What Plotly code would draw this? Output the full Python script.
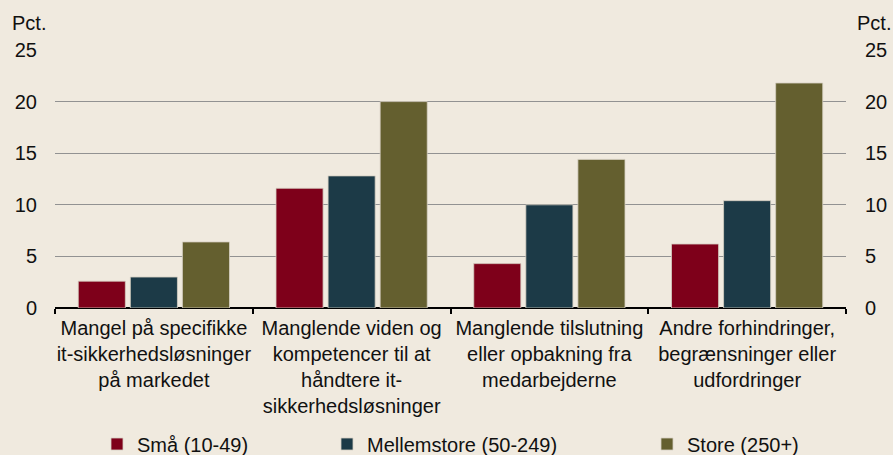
import plotly.graph_objects as go

categories = [
    "Mangel på specifikke<br>it-sikkerhedsløsninger<br>på markedet",
    "Manglende viden og<br>kompetencer til at<br>håndtere it-<br>sikkerhedsløsninger",
    "Manglende tilslutning<br>eller opbakning fra<br>medarbejderne",
    "Andre forhindringer,<br>begrænsninger eller<br>udfordringer",
]
series_names = ["Små (10-49)", "Mellemstore (50-249)", "Store (250+)"]
small = [2.6, 11.6, 4.3, 6.2]
medium = [3.0, 12.8, 10.0, 10.4]
large = [6.4, 20.0, 14.4, 21.8]
y_ticks = [0, 5, 10, 15, 20, 25]

colors = ["#7e001a", "#1c3a47", "#645f2f"]
BG = "#f0eadf"
FONT = "Liberation Sans, Arial, sans-serif"
FS = 20
TXT = "#111111"

W, H = 893, 455
L, R, T, B = 55, 47, 50, 147
pw, ph = W - L - R, H - T - B

def px_x(x):
    return (x - L) / pw

def px_y(y):
    return (H - B - y) / ph

fig = go.Figure()
legend_ids = ["legend", "legend2", "legend3"]
for name, vals, col, lg in zip(series_names, [small, medium, large], colors, legend_ids):
    fig.add_trace(go.Bar(
        x=categories, y=vals, name=name, legend=lg,
        marker=dict(color=col, line=dict(color="#d6cfc3", width=0.8)),
        hoverinfo="x+y+name",
    ))

legend_x = [97, 327, 647]
leg_common = dict(orientation="h", yanchor="middle", xanchor="left",
                  bgcolor="rgba(0,0,0,0)", font=dict(family=FONT, size=FS, color=TXT))
layout_legends = {}
for lg, lx in zip(legend_ids, legend_x):
    layout_legends[lg] = dict(leg_common, x=px_x(lx), y=px_y(444))

fig.update_layout(
    width=W, height=H,
    margin=dict(l=L, r=R, t=T, b=B, pad=0, autoexpand=False),
    paper_bgcolor=BG, plot_bgcolor=BG,
    barmode="group", bargap=0.21, bargroupgap=0.096,
    font=dict(family=FONT, size=FS, color=TXT),
    showlegend=True,
    **layout_legends,
    xaxis=dict(
        type="category", tickson="boundaries", ticks="outside", ticklen=5,
        tickwidth=2, tickcolor="#000000", showline=False, showgrid=False,
        tickfont=dict(family=FONT, size=FS, color=TXT), tickangle=0,
        ticklabelstandoff=6, automargin=False, zeroline=False,
    ),
    yaxis=dict(
        range=[0, 25], tickvals=y_ticks, showgrid=True, gridcolor="#929292",
        gridwidth=1, zeroline=True, zerolinecolor="#000000", zerolinewidth=2,
        ticks="", ticklabelstandoff=17, showline=False, automargin=False,
        tickfont=dict(family=FONT, size=FS, color=TXT),
    ),
    yaxis2=dict(
        range=[0, 25], tickvals=y_ticks, overlaying="y", side="right",
        showgrid=False, zeroline=False, ticks="", ticklabelstandoff=18,
        showline=False, automargin=False,
        tickfont=dict(family=FONT, size=FS, color=TXT),
    ),
    annotations=[
        dict(text="Pct.", xref="paper", yref="paper", x=px_x(10), y=px_y(23),
             xanchor="left", yanchor="middle", showarrow=False,
             font=dict(family=FONT, size=FS, color=TXT)),
        dict(text="Pct.", xref="paper", yref="paper", x=px_x(893), y=px_y(23),
             xanchor="right", yanchor="middle", showarrow=False,
             font=dict(family=FONT, size=FS, color=TXT)),
    ],
)

# invisible zero-height trace so the right-hand axis is drawn
fig.add_trace(go.Bar(x=categories, y=[0, 0, 0, 0], yaxis="y2", showlegend=False,
                     hoverinfo="skip", marker=dict(color="rgba(0,0,0,0)"), width=0))

fig.write_html("out.html", config={"displayModeBar": False},
               post_script="document.body.style.margin='0';document.body.style.background='%s';" % BG)
